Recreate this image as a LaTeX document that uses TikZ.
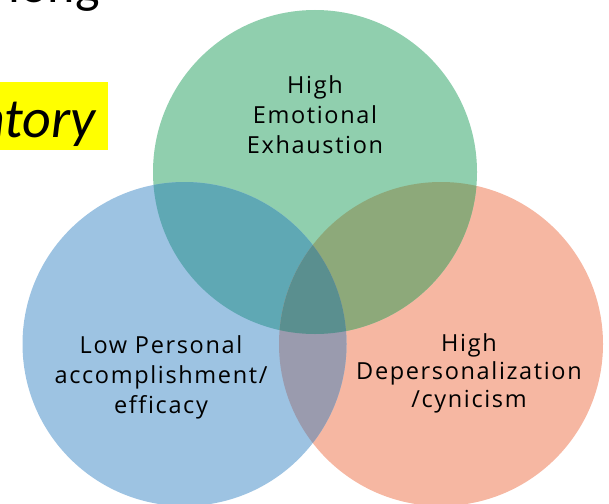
\documentclass[tikz,border=0pt]{standalone}
\usepackage{fontspec}
\setmainfont[Ligatures=NoCommon]{Open Sans}
\newfontfamily\labelfont[Ligatures=NoCommon, LetterSpace=7]{Open Sans}
\newfontfamily\titlefont{Carlito}
\begin{document}
\begin{tikzpicture}[x=1pt,y=-1pt,
  every node/.style={inner sep=0pt},
  label text/.style={align=center, text=black, anchor=base}]
\definecolor{vgreen}{RGB}{144,207,174}
\definecolor{vblue}{RGB}{157,195,226}
\definecolor{vred}{RGB}{246,183,162}
\definecolor{vbg}{RGB}{95,168,180}
\definecolor{vgr}{RGB}{141,169,122}
\definecolor{vbr}{RGB}{154,155,174}
\definecolor{vall}{RGB}{90,143,143}
\definecolor{hilite}{RGB}{255,255,0}
\useasboundingbox (0,0) rectangle (609,503);
\clip (0,0) rectangle (609,503);

% heading fragments
\node[anchor=base east, font=\titlefont\fontsize{52}{56}\selectfont] (head) at (100,3) {long};
\fill[hilite] (0,82) rectangle (108,150);
\node[anchor=base east, font=\titlefont\itshape\fontsize{56}{60}\selectfont] (inv) at (96,137.5) {Inventory};

% circle centres
\coordinate (cg) at (315,172);
\coordinate (cb) at (184.5,344);
\coordinate (cr) at (441,344);
\def\rad{162}

% single regions
\fill[vred] (cr) circle[radius=\rad];
\fill[vgreen] (cg) circle[radius=\rad];
\fill[vblue] (cb) circle[radius=\rad];
% pairwise overlaps
\begin{scope}
  \clip (cg) circle[radius=\rad];
  \fill[vbg] (cb) circle[radius=\rad];
  \fill[vgr] (cr) circle[radius=\rad];
\end{scope}
\begin{scope}
  \clip (cb) circle[radius=\rad];
  \fill[vbr] (cr) circle[radius=\rad];
\end{scope}
% triple overlap
\begin{scope}
  \clip (cg) circle[radius=\rad];
  \clip (cb) circle[radius=\rad];
  \fill[vall] (cr) circle[radius=\rad];
\end{scope}

% labels (anchored at the baseline of the last line)
\node[label text, font=\labelfont\fontsize{23.5}{30}\selectfont] (tg) at (315,153) {High\\Emotional\\Exhaustion};
\node[label text, font=\labelfont\fontsize{23.5}{30}\selectfont] (tb) at (161,413) {Low Personal\\accomplishment/\\efficacy};
\node[label text, font=\labelfont\fontsize{23.5}{28}\selectfont] (tr) at (469,407) {High\\Depersonalization\\/cynicism};
\end{tikzpicture}
\end{document}
